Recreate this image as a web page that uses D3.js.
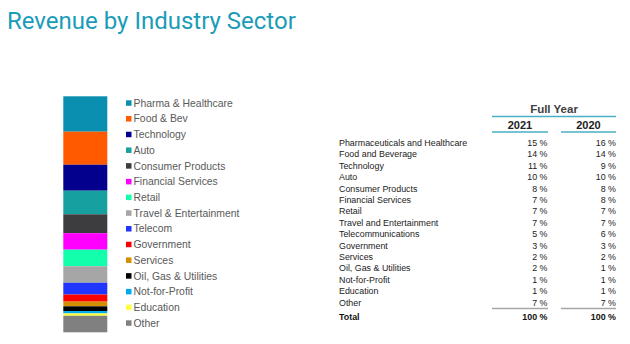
<!DOCTYPE html>
<html lang="en">
<head>
    <meta charset="UTF-8">
    <title>Revenue by Industry Sector</title>
    <style>
        body { margin: 0; background: #fff; }
        svg { display: block; }
    </style>
</head>
<body>
    <script src="https://cdn.jsdelivr.net/npm/d3@7/dist/d3.min.js"></script>
    <script>
        // data
        var legendNames = ['Pharma & Healthcare', 'Food & Bev', 'Technology', 'Auto', 'Consumer Products',
            'Financial Services', 'Retail', 'Travel & Entertainment', 'Telecom', 'Government',
            'Services', 'Oil, Gas & Utilities', 'Not-for-Profit', 'Education', 'Other'];
        var tableNames = ['Pharmaceuticals and Healthcare', 'Food and Beverage', 'Technology', 'Auto',
            'Consumer Products', 'Financial Services', 'Retail', 'Travel and Entertainment',
            'Telecommunications', 'Government', 'Services', 'Oil, Gas & Utilities', 'Not-for-Profit',
            'Education', 'Other'];
        var values2021 = [15, 14, 11, 10, 8, 7, 7, 7, 5, 3, 2, 2, 1, 1, 7];
        var values2020 = [16, 14, 9, 10, 8, 8, 7, 7, 6, 3, 2, 1, 1, 1, 7];
        var years = ['2021', '2020'];
        var colors = ['#0b8fb0', '#ff5a00', '#02008c', '#17a0a0', '#3d3d40', '#ff00ff', '#14ffab',
            '#a6a6a6', '#2035ff', '#ff0000', '#d48f00', '#000000', '#00a9f0', '#ffff40', '#808080'];

        var width = 630, height = 344;
        var svg = d3.select('body').append('svg')
            .attr('width', width)
            .attr('height', height)
            .style('font-family', '"Liberation Sans", Arial, sans-serif');

        // title
        svg.append('text')
            .attr('x', 7)
            .attr('y', 28.5)
            .attr('fill', '#1a9cb8')
            .style('font-family', 'Roboto, sans-serif')
            .style('font-size', '24px')
            .text('Revenue by Industry Sector');

        // stacked bar (2021 mix)
        var stackRow = {};
        legendNames.forEach(function(n, i) { stackRow[n] = values2021[i]; });
        var series = d3.stack().keys(legendNames)([stackRow]);
        var y = d3.scaleLinear().domain([0, d3.sum(values2021)]).range([96.3, 332.3]);

        svg.append('g').selectAll('rect')
            .data(series)
            .enter()
            .append('rect')
            .attr('x', 63.3)
            .attr('width', 44)
            .attr('y', function(d) { return y(d[0][0]); })
            .attr('height', function(d) { return y(d[0][1]) - y(d[0][0]); })
            .attr('fill', function(d, i) { return colors[i]; });

        // legend
        var ly = d3.scalePoint().domain(legendNames).range([103, 323]);
        var lg = svg.append('g').selectAll('g')
            .data(legendNames)
            .enter()
            .append('g')
            .attr('transform', function(d) { return 'translate(126,' + ly(d) + ')'; });
        lg.append('rect')
            .attr('x', 0).attr('y', -2.7)
            .attr('width', 5.5).attr('height', 5.5)
            .attr('fill', function(d, i) { return colors[i]; });
        lg.append('text')
            .attr('x', 7.5)
            .attr('dy', '0.36em')
            .attr('fill', '#595959')
            .style('font-size', '10.4px')
            .text(function(d) { return d; });

        // table
        var colRight = {'2021': 547.5, '2020': 616};
        var colLine = {'2021': [492, 548], '2020': [561, 616]};
        var ty = d3.scalePoint().domain(tableNames).range([142.7, 302.3]);
        var tbl = svg.append('g').style('font-size', '8.9px');

        tbl.append('text')
            .attr('x', 554).attr('y', 113)
            .attr('text-anchor', 'middle')
            .attr('fill', '#404040')
            .style('font-weight', 'bold')
            .style('font-size', '11.5px')
            .text('Full Year');
        tbl.append('line')
            .attr('x1', 492).attr('x2', 616)
            .attr('y1', 116.5).attr('y2', 116.5)
            .attr('stroke', '#4aaec4').attr('stroke-width', 1.5);

        years.forEach(function(yr, k) {
            var vals = k === 0 ? values2021 : values2020;
            tbl.append('text')
                .attr('x', (colLine[yr][0] + colLine[yr][1]) / 2)
                .attr('y', 128.5)
                .attr('text-anchor', 'middle')
                .attr('fill', '#222')
                .style('font-weight', 'bold')
                .style('font-size', '11px')
                .text(yr);
            tbl.append('line')
                .attr('x1', colLine[yr][0]).attr('x2', colLine[yr][1])
                .attr('y1', 132).attr('y2', 132)
                .attr('stroke', '#4aaec4').attr('stroke-width', 1.5);
            tbl.append('g').selectAll('text')
                .data(vals)
                .enter()
                .append('text')
                .attr('x', colRight[yr])
                .attr('y', function(d, i) { return ty(tableNames[i]); })
                .attr('dy', '0.36em')
                .attr('text-anchor', 'end')
                .attr('fill', '#222')
                .text(function(d) { return d + ' %'; });
            tbl.append('line')
                .attr('x1', colLine[yr][0]).attr('x2', colLine[yr][1])
                .attr('y1', 308.5).attr('y2', 308.5)
                .attr('stroke', '#a6a6a6').attr('stroke-width', 1.5);
            tbl.append('text')
                .attr('x', colRight[yr])
                .attr('y', 317)
                .attr('dy', '0.36em')
                .attr('text-anchor', 'end')
                .attr('fill', '#111')
                .style('font-weight', 'bold')
                .text(d3.sum(vals) + ' %');
        });

        tbl.append('g').selectAll('text')
            .data(tableNames)
            .enter()
            .append('text')
            .attr('x', 339)
            .attr('y', function(d) { return ty(d); })
            .attr('dy', '0.36em')
            .attr('fill', '#222')
            .text(function(d) { return d; });
        tbl.append('text')
            .attr('x', 339).attr('y', 317)
            .attr('dy', '0.36em')
            .attr('fill', '#111')
            .style('font-weight', 'bold')
            .text('Total');
    </script>
</body>
</html>
